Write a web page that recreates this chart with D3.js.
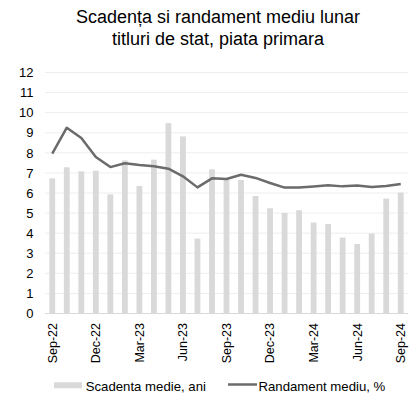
<!DOCTYPE html>
<html>
<head>
<meta charset="utf-8">
<script src="https://cdn.jsdelivr.net/npm/d3@7"></script>
<style>
  body { margin: 0; background: #fff; }
  svg { display: block; font-family: "Liberation Sans", Arial, sans-serif; }
</style>
</head>
<body>
<svg id="chart" width="413" height="397"></svg>
<script>
// Monthly primary-market government securities: average maturity (years) and yield (%)
const months = ["Sep-22","Oct-22","Nov-22","Dec-22","Jan-23","Feb-23","Mar-23","Apr-23","May-23","Jun-23","Jul-23","Aug-23",
                "Sep-23","Oct-23","Nov-23","Dec-23","Jan-24","Feb-24","Mar-24","Apr-24","May-24","Jun-24","Jul-24","Aug-24","Sep-24"];
const maturity = [6.73,7.28,7.08,7.11,5.93,7.62,6.35,7.66,9.48,8.82,3.73,7.18,
                  6.66,6.65,5.85,5.24,5.01,5.14,4.53,4.46,3.78,3.46,3.98,5.72,6.02];
const yieldAvg = [7.96,9.25,8.74,7.79,7.29,7.48,7.39,7.33,7.21,6.83,6.28,6.73,
                  6.70,6.91,6.75,6.50,6.27,6.27,6.32,6.38,6.33,6.37,6.30,6.35,6.45];
const yTicks = [0,1,2,3,4,5,6,7,8,9,10,11,12];
const xTickLabels = ["Sep-22","Dec-22","Mar-23","Jun-23","Sep-23","Dec-23","Mar-24","Jun-24","Sep-24"];
const titleLines = ["Scadența si randament mediu lunar", "titluri de stat, piata primara"];
const legendLabels = ["Scadenta medie, ani", "Randament mediu, %"];

const svg = d3.select("#chart");
const margin = {left: 45, right: 5, top: 72.5, bottom: 83.5};
const W = 413, H = 397;
const FONT = "Liberation Sans, Arial, sans-serif";

const x = d3.scaleBand().domain(months).range([margin.left, W - margin.right]).paddingInner(0.6).paddingOuter(0.3);
const y = d3.scaleLinear().domain([0, 12]).range([H - margin.bottom, margin.top]);

// Title
svg.append("g").selectAll("text").data(titleLines).join("text")
  .attr("x", 218).attr("y", (d, i) => 22.5 + i * 22.5)
  .attr("text-anchor", "middle").attr("font-size", 18).attr("fill", "#000")
  .text(d => d);

// Gridlines
svg.append("g").selectAll("line").data(yTicks.filter(t => t > 0)).join("line")
  .attr("x1", margin.left).attr("x2", W - margin.right)
  .attr("y1", d => y(d)).attr("y2", d => y(d))
  .attr("stroke", "#eeeeee").attr("stroke-width", 1);

// Y axis
const yAxis = svg.append("g").attr("transform", `translate(${margin.left},0)`)
  .call(d3.axisLeft(y).tickValues(yTicks).tickSize(0).tickPadding(11.5));
yAxis.select(".domain").remove();
yAxis.selectAll("text").attr("font-size", 13).attr("fill", "#000").attr("font-family", FONT);

// Bars
svg.append("g").selectAll("rect").data(months).join("rect")
  .attr("x", d => x(d)).attr("width", x.bandwidth())
  .attr("y", (d, i) => y(maturity[i])).attr("height", (d, i) => y(0) - y(maturity[i]))
  .attr("fill", "#d9d9d9");

// X axis
const xAxis = svg.append("g").attr("transform", `translate(0,${y(0)})`)
  .call(d3.axisBottom(x).tickValues(xTickLabels).tickSize(0).tickPadding(0));
xAxis.select(".domain").attr("stroke", "#d9d9d9").attr("d", `M${margin.left},0H${W - margin.right}`);
xAxis.selectAll("text")
  .attr("font-size", 12.5).attr("fill", "#000").attr("font-family", FONT)
  .attr("transform", "rotate(-90)")
  .attr("text-anchor", "end")
  .attr("x", -9.5).attr("y", 0).attr("dy", "0.35em");

// Yield line
const line = d3.line().x((d, i) => x(months[i]) + x.bandwidth() / 2).y(d => y(d));
svg.append("path").datum(yieldAvg)
  .attr("d", line).attr("fill", "none")
  .attr("stroke", "#6b6b6b").attr("stroke-width", 2.5).attr("stroke-linejoin", "round");

// Legend
const lg = svg.append("g");
lg.append("rect").attr("x", 54).attr("y", 382.3).attr("width", 28).attr("height", 6).attr("fill", "#d9d9d9");
lg.append("text").attr("x", 85.7).attr("y", 390.7).attr("font-size", 13.2).attr("fill", "#000").text(legendLabels[0]);
lg.append("line").attr("x1", 228).attr("x2", 257).attr("y1", 384.5).attr("y2", 384.5)
  .attr("stroke", "#6b6b6b").attr("stroke-width", 2.5);
lg.append("text").attr("x", 258.5).attr("y", 390.7).attr("font-size", 13.2).attr("fill", "#000").text(legendLabels[1]);
</script>
</body>
</html>
